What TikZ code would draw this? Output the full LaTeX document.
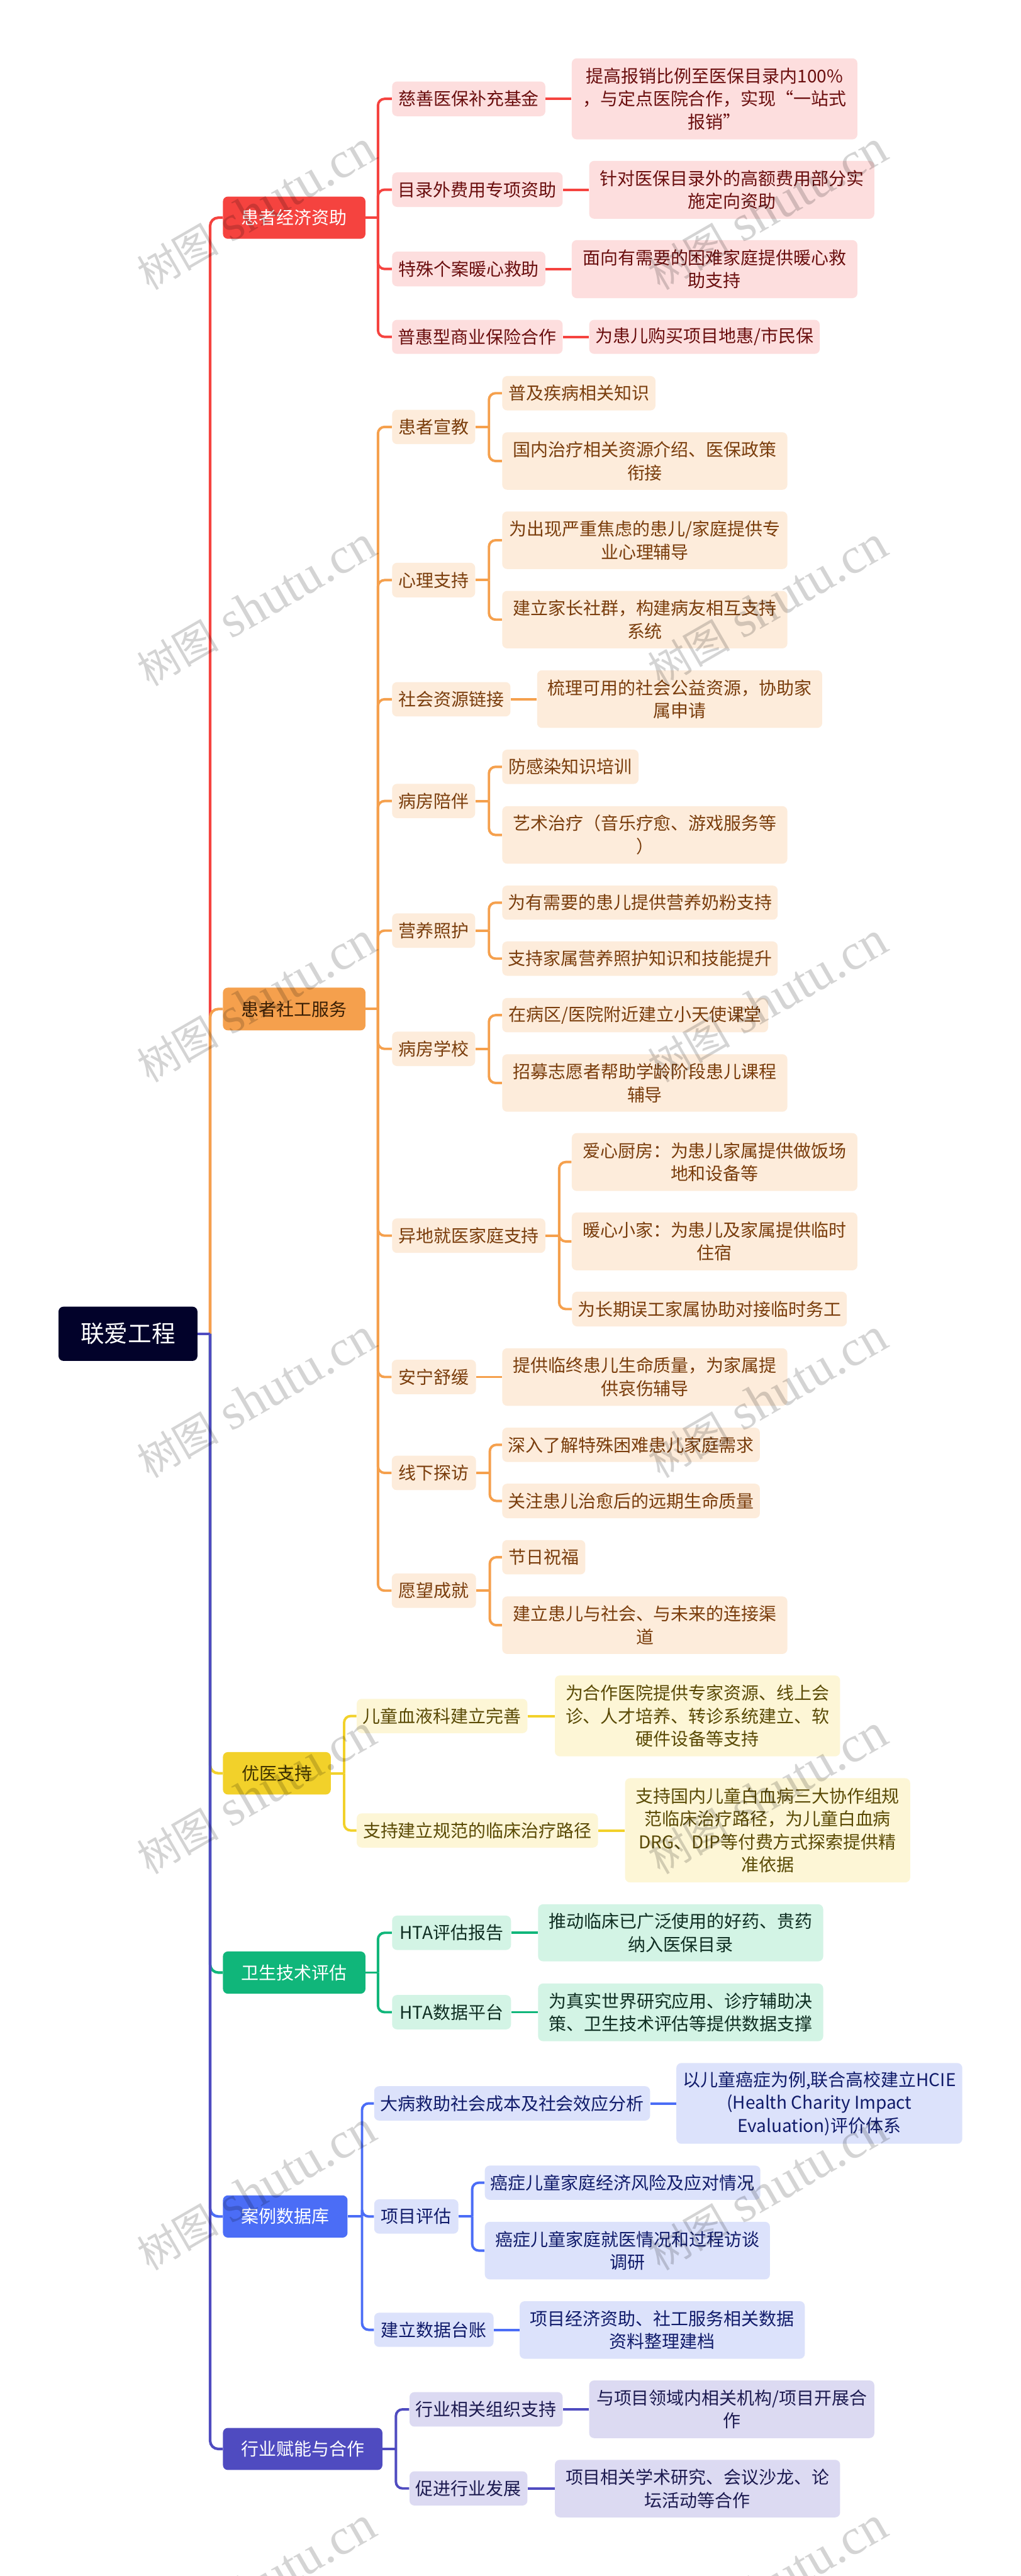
\documentclass[tikz,border=0pt]{standalone}
\usepackage{fontspec}
\setmainfont{Noto Sans CJK SC}
\newfontfamily\wmlat{Liberation Serif}
\definecolor{cRoot}{HTML}{02022A}
\definecolor{cRed}{HTML}{F5433F}
\definecolor{cRedL}{HTML}{FDDEDE}
\definecolor{cRedT}{HTML}{6A0E0E}
\definecolor{cOr}{HTML}{F5A04D}
\definecolor{cOrL}{HTML}{FDECDB}
\definecolor{cOrT}{HTML}{7A3D0C}
\definecolor{cOrH}{HTML}{3A1F05}
\definecolor{cYe}{HTML}{F2D12A}
\definecolor{cYeL}{HTML}{FDF6D6}
\definecolor{cYeT}{HTML}{5A4A05}
\definecolor{cYeH}{HTML}{403300}
\definecolor{cGr}{HTML}{10B67A}
\definecolor{cGrL}{HTML}{D3F4E5}
\definecolor{cGrT}{HTML}{0F2E22}
\definecolor{cBl}{HTML}{4B6DF6}
\definecolor{cBlL}{HTML}{DCE2FB}
\definecolor{cBlT}{HTML}{101B6A}
\definecolor{cIn}{HTML}{4F4BC0}
\definecolor{cInL}{HTML}{DCDAF2}
\definecolor{cInT}{HTML}{1C1A50}
\tikzset{
  base/.style={rounded corners=3pt, inner sep=0pt, align=center, font=\fontsize{10.7}{14}\selectfont},
  rootbox/.style={base, fill=cRoot, text=white, font=\fontsize{14.4}{17}\selectfont},
  redA/.style={base, fill=cRed, text=white},
  redB/.style={base, fill=cRedL, text=cRedT},
  orA/.style={base, fill=cOr, text=cOrH},
  orB/.style={base, fill=cOrL, text=cOrT},
  yeA/.style={base, fill=cYe, text=cYeH},
  yeB/.style={base, fill=cYeL, text=cYeT},
  grA/.style={base, fill=cGr, text=white},
  grB/.style={base, fill=cGrL, text=cGrT},
  blA/.style={base, fill=cBl, text=white},
  blB/.style={base, fill=cBlL, text=cBlT},
  inA/.style={base, fill=cIn, text=white},
  inB/.style={base, fill=cInL, text=cInT},
  ln/.style={line width=1.5pt},
  rln/.style={line width=1.6pt, rounded corners=5pt},
  kln/.style={line width=1.5pt, rounded corners=4pt},
  wm/.style={rotate=30, text=black, opacity=0.17, inner sep=0pt},
}
\newcommand\mmbox[7]{\node[#6, minimum width={(#4-#2)*1pt}, minimum height={(#5-#3)*1pt}] (#1) at ({(#2+#4)/2*1pt},{-(#3+#5)/2*1pt}) {#7};}
\newcommand\wmark[3]{\node[wm] (#1) at (#2pt,-#3pt) {\fontsize{25}{25}\selectfont 树图{\wmlat\fontsize{31}{31}\selectfont\ shutu.cn}};}
\begin{document}
\begin{tikzpicture}
\fill[white] (0,0) rectangle (621pt,-1567.3pt);
\useasboundingbox (0,0) rectangle (621pt,-1567.3pt);

% root
\mmbox{root}{35.6}{795}{120.1}{828}{rootbox}{联爱工程}

% level 1
\mmbox{b1}{135.6}{119.6}{222.3}{145.3}{redA}{患者经济资助}
\mmbox{b2}{135.6}{600.9}{222.3}{626.9}{orA}{患者社工服务}
\mmbox{b3}{135.6}{1066.0}{201.2}{1091.8}{yeA}{优医支持}
\mmbox{b4}{135.6}{1187.3}{222.3}{1213.0}{grA}{卫生技术评估}
\mmbox{b5}{135.6}{1335.7}{211.4}{1361.4}{blA}{案例数据库}
\mmbox{b6}{135.6}{1477.2}{232.6}{1502.8}{inA}{行业赋能与合作}

% red
\mmbox{c11}{238.5}{49.6}{331.7}{70.7}{redB}{慈善医保补充基金}
\mmbox{l11}{347.8}{35.5}{521.5}{84.8}{redB}{提高报销比例至医保目录内100\%\\，与定点医院合作，实现“一站式\\报销”}
\mmbox{c12}{238.5}{104.9}{342.2}{125.9}{redB}{目录外费用专项资助}
\mmbox{l12}{358.4}{97.9}{531.8}{133.1}{redB}{针对医保目录外的高额费用部分实\\施定向资助}
\mmbox{c13}{238.5}{153.1}{331.7}{174.2}{redB}{特殊个案暖心救助}
\mmbox{l13}{347.8}{146.1}{521.5}{181.4}{redB}{面向有需要的困难家庭提供暖心救\\助支持}
\mmbox{c14}{238.5}{194.6}{342.2}{215.3}{redB}{普惠型商业保险合作}
\mmbox{l14}{358.4}{194.6}{498.6}{215.3}{redB}{为患儿购买项目地惠/市民保}

% orange
\mmbox{c21}{238.5}{249.3}{289.0}{270.2}{orB}{患者宣教}
\mmbox{l211}{305.5}{228.8}{398.7}{249.7}{orB}{普及疾病相关知识}
\mmbox{l212}{305.5}{263.0}{478.9}{298.0}{orB}{国内治疗相关资源介绍、医保政策\\衔接}
\mmbox{c22}{238.5}{342.4}{289.0}{363.5}{orB}{心理支持}
\mmbox{l221}{305.5}{311.2}{478.9}{346.2}{orB}{为出现严重焦虑的患儿/家庭提供专\\业心理辅导}
\mmbox{l222}{305.5}{359.5}{478.9}{394.5}{orB}{建立家长社群，构建病友相互支持\\系统}
\mmbox{c23}{238.5}{415.0}{310.5}{435.9}{orB}{社会资源链接}
\mmbox{l231}{326.7}{407.8}{500.1}{442.9}{orB}{梳理可用的社会公益资源，协助家\\属申请}
\mmbox{c24}{238.5}{476.9}{289.0}{497.8}{orB}{病房陪伴}
\mmbox{l241}{305.5}{456.1}{388.4}{477.0}{orB}{防感染知识培训}
\mmbox{l242}{305.5}{490.5}{478.9}{525.5}{orB}{艺术治疗（音乐疗愈、游戏服务等\\）}
\mmbox{c25}{238.5}{555.7}{289.0}{576.7}{orB}{营养照护}
\mmbox{l251}{305.5}{538.8}{473.0}{559.6}{orB}{为有需要的患儿提供营养奶粉支持}
\mmbox{l252}{305.5}{572.8}{473.0}{593.7}{orB}{支持家属营养照护知识和技能提升}
\mmbox{c26}{238.5}{627.7}{289.0}{648.6}{orB}{病房学校}
\mmbox{l261}{305.5}{607.2}{467.2}{628.1}{orB}{在病区/医院附近建立小天使课堂}
\mmbox{l262}{305.5}{641.4}{478.9}{676.4}{orB}{招募志愿者帮助学龄阶段患儿课程\\辅导}
\mmbox{c27}{238.5}{741.3}{331.7}{762.3}{orB}{异地就医家庭支持}
\mmbox{l271}{347.8}{689.4}{521.5}{724.6}{orB}{爱心厨房：为患儿家属提供做饭场\\地和设备等}
\mmbox{l272}{347.8}{737.7}{521.5}{772.9}{orB}{暖心小家：为患儿及家属提供临时\\住宿}
\mmbox{l273}{348.0}{785.9}{515.1}{807.0}{orB}{为长期误工家属协助对接临时务工}
\mmbox{c28}{238.3}{827.3}{289.5}{848.3}{orB}{安宁舒缓}
\mmbox{l281}{305.5}{820.3}{478.9}{855.3}{orB}{提供临终患儿生命质量，为家属提\\供哀伤辅导}
\mmbox{c29}{238.3}{885.7}{289.5}{906.6}{orB}{线下探访}
\mmbox{l291}{305.5}{868.6}{462.2}{889.5}{orB}{深入了解特殊困难患儿家庭需求}
\mmbox{l292}{305.5}{902.7}{462.2}{923.7}{orB}{关注患儿治愈后的远期生命质量}
\mmbox{c2a}{238.3}{957.3}{289.5}{978.3}{orB}{愿望成就}
\mmbox{l2a1}{305.5}{937.0}{356.0}{957.9}{orB}{节日祝福}
\mmbox{l2a2}{305.5}{971.3}{478.9}{1006.3}{orB}{建立患儿与社会、与未来的连接渠\\道}

% yellow
\mmbox{c31}{217.0}{1033.6}{320.8}{1054.5}{yeB}{儿童血液科建立完善}
\mmbox{l311}{337.5}{1019.4}{511.0}{1068.6}{yeB}{为合作医院提供专家资源、线上会\\诊、人才培养、转诊系统建立、软\\硬件设备等支持}
\mmbox{c32}{217.0}{1103.3}{363.7}{1124.1}{yeB}{支持建立规范的临床治疗路径}
\mmbox{l321}{380.2}{1081.9}{553.6}{1145.3}{yeB}{支持国内儿童白血病三大协作组规\\范临床治疗路径，为儿童白血病\\DRG、DIP等付费方式探索提供精\\准依据}

% green
\mmbox{c41}{238.5}{1165.5}{310.8}{1186.4}{grB}{HTA评估报告}
\mmbox{l411}{327.3}{1158.6}{500.7}{1193.3}{grB}{推动临床已广泛使用的好药、贵药\\纳入医保目录}
\mmbox{c42}{238.5}{1213.8}{310.8}{1234.7}{grB}{HTA数据平台}
\mmbox{l421}{327.3}{1206.8}{500.7}{1241.9}{grB}{为真实世界研究应用、诊疗辅助决\\策、卫生技术评估等提供数据支撑}

% blue
\mmbox{c51}{227.6}{1269.3}{395.4}{1290.2}{blB}{大病救助社会成本及社会效应分析}
\mmbox{l511}{411.4}{1255.2}{585.3}{1304.3}{blB}{以儿童癌症为例,联合高校建立HCIE\\(Health Charity Impact\\Evaluation)评价体系}
\mmbox{c52}{227.6}{1338.1}{278.8}{1359.0}{blB}{项目评估}
\mmbox{l521}{294.9}{1317.6}{462.5}{1338.4}{blB}{癌症儿童家庭经济风险及应对情况}
\mmbox{l522}{294.9}{1351.8}{468.3}{1386.8}{blB}{癌症儿童家庭就医情况和过程访谈\\调研}
\mmbox{c53}{227.6}{1407.1}{300.2}{1427.9}{blB}{建立数据台账}
\mmbox{l531}{316.1}{1400.1}{489.5}{1435.1}{blB}{项目经济资助、社工服务相关数据\\资料整理建档}

% indigo
\mmbox{c61}{249.1}{1455.4}{342.2}{1476.4}{inB}{行业相关组织支持}
\mmbox{l611}{358.4}{1448.3}{531.8}{1483.4}{inB}{与项目领域内相关机构/项目开展合\\作}
\mmbox{c62}{249.1}{1503.6}{320.8}{1524.4}{inB}{促进行业发展}
\mmbox{l621}{337.5}{1496.6}{511.0}{1531.6}{inB}{项目相关学术研究、会议沙龙、论\\坛活动等合作}

% ---------- connectors: root -> level 1
\coordinate (rt) at ([xshift=7.5pt]root.east);
\draw[rln,cRed] (rt) |- (b1.west);
\draw[rln,cOr] (rt) |- (b2.west);
\draw[rln,cYe] (rt) |- (b3.west);
\draw[rln,cGr] (rt) |- (b4.west);
\draw[rln,cBl] (rt) |- (b5.west);
\draw[rln,cIn] (rt) |- (b6.west);
\draw[line width=1.6pt,cIn] (root.east) -- (rt);

% level 1 -> level 2
\draw[ln,cRed] (b1.east) -- ([xshift=7.4pt]b1.east);
\foreach \c in {c11,c12,c13,c14}{\draw[kln,cRed] ([xshift=7.4pt]b1.east) |- (\c.west);}
\draw[ln,cOr] (b2.east) -- ([xshift=7.4pt]b2.east);
\foreach \c in {c21,c22,c23,c24,c25,c26,c27,c28,c29,c2a}{\draw[kln,cOr] ([xshift=7.4pt]b2.east) |- (\c.west);}
\draw[ln,cYe] (b3.east) -- ([xshift=7.9pt]b3.east);
\foreach \c in {c31,c32}{\draw[kln,cYe] ([xshift=7.9pt]b3.east) |- (\c.west);}
\draw[ln,cGr] (b4.east) -- ([xshift=7.4pt]b4.east);
\foreach \c in {c41,c42}{\draw[kln,cGr] ([xshift=7.4pt]b4.east) |- (\c.west);}
\draw[ln,cBl] (b5.east) -- ([xshift=8.6pt]b5.east);
\foreach \c in {c51,c52,c53}{\draw[kln,cBl] ([xshift=8.6pt]b5.east) |- (\c.west);}
\draw[ln,cIn] (b6.east) -- ([xshift=8pt]b6.east);
\foreach \c in {c61,c62}{\draw[kln,cIn] ([xshift=8pt]b6.east) |- (\c.west);}

% level 2 -> level 3 (single)
\foreach \p/\q in {c11/l11,c12/l12,c13/l13,c14/l14}{\draw[ln,cRed] (\p.east) -- (\p.east -| \q.west);}
\foreach \p/\q in {c23/l231,c28/l281}{\draw[ln,cOr] (\p.east) -- (\p.east -| \q.west);}
\foreach \p/\q in {c31/l311,c32/l321}{\draw[ln,cYe] (\p.east) -- (\p.east -| \q.west);}
\foreach \p/\q in {c41/l411,c42/l421}{\draw[ln,cGr] (\p.east) -- (\p.east -| \q.west);}
\foreach \p/\q in {c51/l511,c53/l531}{\draw[ln,cBl] (\p.east) -- (\p.east -| \q.west);}
\foreach \p/\q in {c61/l611,c62/l621}{\draw[ln,cIn] (\p.east) -- (\p.east -| \q.west);}

% level 2 -> level 3 (multiple)
\foreach \p/\q in {c21/l211,c21/l212,c22/l221,c22/l222,c24/l241,c24/l242,c25/l251,c25/l252,c26/l261,c26/l262,c27/l271,c27/l272,c27/l273,c29/l291,c29/l292,c2a/l2a1,c2a/l2a2}{
  \draw[ln,cOr] (\p.east) -- ([xshift=8.2pt]\p.east);
  \draw[kln,cOr] ([xshift=8.2pt]\p.east) |- (\q.west);}
\foreach \p/\q in {c52/l521,c52/l522}{
  \draw[ln,cBl] (\p.east) -- ([xshift=8.2pt]\p.east);
  \draw[kln,cBl] ([xshift=8.2pt]\p.east) |- (\q.west);}

% watermarks
\foreach \i/\y in {1/128,2/369,3/610,4/851,5/1092,6/1333,7/1574}{
  \wmark{wl\i}{156}{\y}
  \wmark{wr\i}{467}{\y}
}
\end{tikzpicture}
\end{document}
